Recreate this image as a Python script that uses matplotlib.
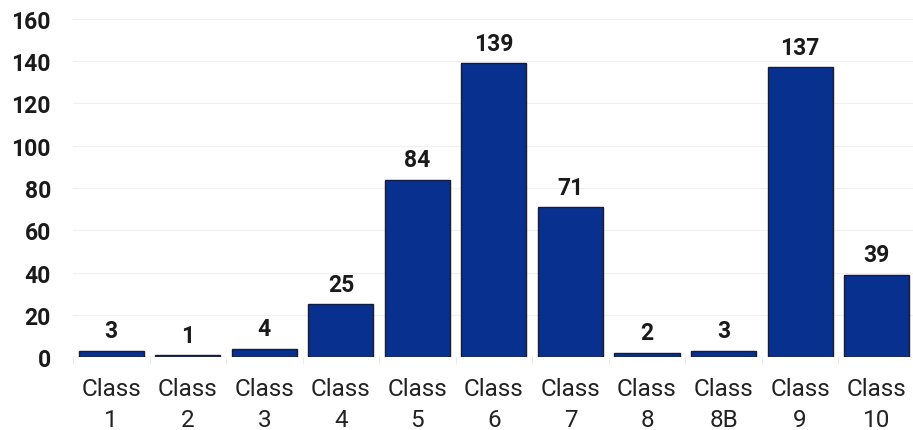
import matplotlib.pyplot as plt
import numpy as np

plt.rcParams['font.family'] = ['Roboto', 'DejaVu Sans']

# Data
categories = ['Class\n1', 'Class\n2', 'Class\n3', 'Class\n4', 'Class\n5', 'Class\n6',
              'Class\n7', 'Class\n8', 'Class\n8B', 'Class\n9', 'Class\n10']
counts = [3, 1, 4, 25, 84, 139, 71, 2, 3, 137, 39]
yticks = [0, 20, 40, 60, 80, 100, 120, 140, 160]

fig = plt.figure(figsize=(9.13, 4.31), dpi=100)
ax = fig.add_axes([0.08, 0.169, 0.922, 0.785])

x = np.arange(len(categories))
bars = ax.bar(x, counts, width=0.85, color='#08318f', edgecolor='#1b1b2b', linewidth=1, zorder=3)

# value labels
for xi, v in zip(x, counts):
    ax.text(xi, v + 4, str(v), ha='center', va='bottom', fontsize=16.5,
            fontweight='bold', color='#1a1a1a')

ax.set_xlim(-0.5, len(categories) - 0.5)
ax.set_ylim(0, 160)
ax.set_yticks(yticks)
ax.set_yticklabels([str(t) for t in yticks], fontsize=16.5, fontweight='bold', color='#1a1a1a')
ax.set_xticks(x)
ax.set_xticklabels(categories, fontsize=17.5, color='#222222', linespacing=1.45)

# faint grid and category separators
ax.grid(axis='y', color='#f0f0f0', linewidth=0.8, zorder=0)
ax.set_xticks(np.arange(-0.5, len(categories), 1), minor=True)
ax.tick_params(axis='x', which='minor', length=5, color='#e6e6e6')
ax.tick_params(axis='x', which='major', length=0, pad=14)
ax.tick_params(axis='y', length=0, pad=16)

for s in ax.spines.values():
    s.set_visible(False)
ax.axhline(0, color='#eeeeee', linewidth=0.8, zorder=1)

fig.savefig('out.png', dpi=100)
